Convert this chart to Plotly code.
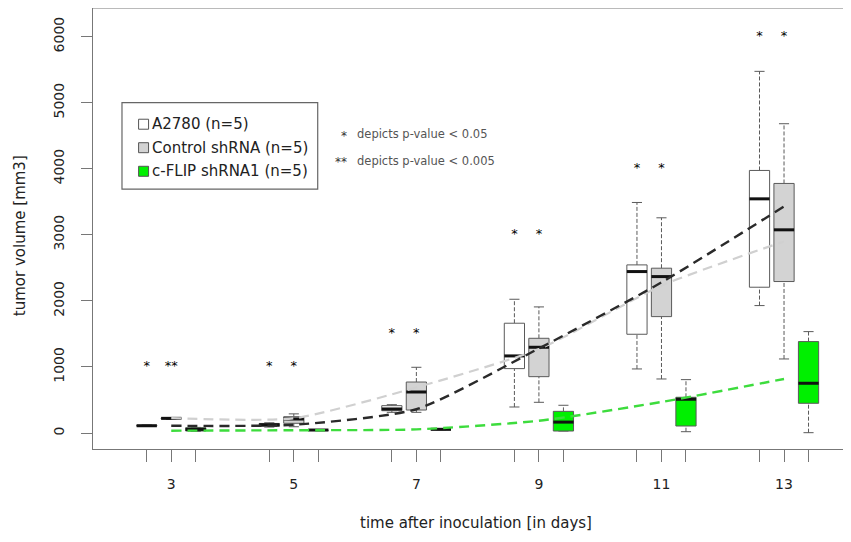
import plotly.graph_objects as go

# ---------------- data ----------------
days = [3, 5, 7, 9, 11, 13]
day_labels = ["3", "5", "7", "9", "11", "13"]

# five-number summaries (lower whisker, Q1, median, Q3, upper whisker) per day
a2780_low = [100, 90, 313, 394, 970, 1929]
a2780_q1 = [105, 100, 338, 975, 1495, 2207]
a2780_med = [110, 125, 364, 1167, 2444, 3545]
a2780_q3 = [118, 145, 414, 1662, 2545, 3975]
a2780_high = [122, 155, 429, 2025, 3490, 5475]

control_low = [205, 95, 313, 465, 818, 1121]
control_q1 = [215, 147, 348, 853, 1762, 2293]
control_med = [222, 212, 621, 1298, 2368, 3076]
control_q3 = [228, 247, 772, 1434, 2495, 3778]
control_high = [235, 290, 995, 1909, 3258, 4682]

flip_low = [25, 38, 48, 30, 20, 5]
flip_q1 = [30, 40, 50, 30, 106, 450]
flip_med = [55, 45, 56, 165, 511, 753]
flip_q3 = [80, 50, 60, 328, 541, 1384]
flip_high = [85, 52, 62, 420, 808, 1535]

# mean trend lines
a2780_trend = [110, 125, 360, 1280, 2280, 3430]
control_trend = [225, 222, 690, 1270, 2230, 2900]
flip_trend = [35, 42, 55, 185, 470, 818]

# significance marks (A2780 position, Control position per day)
sig_a2780 = ["*", "*", "*", "*", "*", "*"]
sig_control = ["**", "*", "*", "*", "*", "*"]
sig_level = [1000, 1000, 1500, 3000, 4000, 6000]

series_names = ["A2780 (n=5)", "Control shRNA (n=5)", "c-FLIP shRNA1 (n=5)"]
series_fill = ["#ffffff", "#d3d3d3", "#00f000"]
offsets = [-0.4, 0.0, 0.4]

# ---------------- styling ----------------
FONT = "DejaVu Sans"
BOX_W = 0.33
CAP = BOX_W / 4
EDGE = "#5a5a5a"

PAGE = 8  # page body margin offset in the screenshot
W, H = 851 - PAGE, 542 - PAGE
L, R, T = 92.7 - PAGE, 0, 0
B = H - (449.3 - PAGE)
PW, PH = W - L - R, H - T - B


def px(xs):
    return (xs - PAGE - L) / PW


def py(ys):
    return (H - B - (ys - PAGE)) / PH


fig = go.Figure()

groups = [
    (a2780_low, a2780_q1, a2780_med, a2780_q3, a2780_high),
    (control_low, control_q1, control_med, control_q3, control_high),
    (flip_low, flip_q1, flip_med, flip_q3, flip_high),
]

for gi, (lo, q1, md, q3, hi) in enumerate(groups):
    for di, d in enumerate(days):
        p = d + offsets[gi]
        fig.add_trace(go.Scatter(
            x=[p, p, None, p, p], y=[q3[di], hi[di], None, lo[di], q1[di]],
            mode="lines", line=dict(color=EDGE, width=1, dash="4px,2px"),
            hoverinfo="skip", showlegend=False))
        fig.add_trace(go.Scatter(
            x=[p - CAP, p + CAP, None, p - CAP, p + CAP],
            y=[hi[di], hi[di], None, lo[di], lo[di]],
            mode="lines", line=dict(color=EDGE, width=1),
            hoverinfo="skip", showlegend=False))
        fig.add_trace(go.Scatter(
            x=[p - BOX_W / 2, p + BOX_W / 2, p + BOX_W / 2, p - BOX_W / 2, p - BOX_W / 2],
            y=[q1[di], q1[di], q3[di], q3[di], q1[di]],
            mode="lines", fill="toself", fillcolor=series_fill[gi],
            line=dict(color=EDGE, width=1), hoverinfo="skip", showlegend=False))
        fig.add_trace(go.Scatter(
            x=[p - BOX_W / 2, p + BOX_W / 2], y=[md[di], md[di]],
            mode="lines", line=dict(color="#111111", width=3),
            hoverinfo="skip", showlegend=False))

for vals, col, wd in [(control_trend, "#d0d0d0", 2.2),
                      (a2780_trend, "#2a2a2a", 2.4),
                      (flip_trend, "#3ddc3d", 2.4)]:
    fig.add_trace(go.Scatter(
        x=days, y=vals, mode="lines",
        line=dict(color=col, width=wd, dash="10px,6px", shape="spline", smoothing=0.6),
        hoverinfo="skip", showlegend=False))

star_x, star_y, star_t = [], [], []
for di, d in enumerate(days):
    star_x += [d + offsets[0], d + offsets[1]]
    star_y += [sig_level[di], sig_level[di]]
    star_t += [sig_a2780[di], sig_control[di]]
fig.add_trace(go.Scatter(
    x=star_x, y=star_y, mode="text", text=star_t, textposition="middle center",
    textfont=dict(family=FONT, size=13, color="#000000"),
    hoverinfo="skip", showlegend=False))

tick_vals, tick_text = [], []
for d, lab in zip(days, day_labels):
    for k, o in enumerate(offsets):
        tick_vals.append(d + o)
        tick_text.append(lab if k == 1 else "")

shapes = [
    dict(type="line", xref="paper", yref="paper", x0=0, x1=1.05, y0=1, y1=1,
         line=dict(color="#777777", width=1.2)),
    dict(type="rect", xref="paper", yref="paper",
         x0=px(121.7), x1=px(317.5), y0=py(102.7), y1=py(189.3),
         line=dict(color="#666666", width=1.2), fillcolor="white"),
]
annotations = []
row_y = [124.3, 147.8, 171.4]
for i, (nm, fc) in enumerate(zip(series_names, series_fill)):
    shapes.append(dict(type="rect", xref="paper", yref="paper",
                       x0=px(138.3), x1=px(148.3), y0=py(row_y[i] + 5), y1=py(row_y[i] - 5),
                       line=dict(color="#555555", width=1), fillcolor=fc))
    annotations.append(dict(text=nm, xref="paper", yref="paper", x=px(150), y=py(row_y[i]),
                            xanchor="left", yanchor="middle", showarrow=False,
                            font=dict(family=FONT, size=15, color="#222222")))

annotations += [
    dict(text="*", xref="paper", yref="paper", x=px(349), y=py(136), xanchor="right",
         yanchor="middle", showarrow=False, font=dict(family=FONT, size=12, color="#333333")),
    dict(text="depicts p-value < 0.05", xref="paper", yref="paper", x=px(355), y=py(134),
         xanchor="left", yanchor="middle", showarrow=False,
         font=dict(family=FONT, size=11.5, color="#555555")),
    dict(text="**", xref="paper", yref="paper", x=px(349), y=py(162), xanchor="right",
         yanchor="middle", showarrow=False, font=dict(family=FONT, size=12, color="#333333")),
    dict(text="depicts p-value < 0.005", xref="paper", yref="paper", x=px(355), y=py(161),
         xanchor="left", yanchor="middle", showarrow=False,
         font=dict(family=FONT, size=11.5, color="#555555")),
    dict(text="time after inoculation [in days]", xref="paper", yref="paper",
         x=px(476), y=py(523), xanchor="center", yanchor="middle", showarrow=False,
         font=dict(family=FONT, size=15, color="#222222")),
    dict(text="tumor volume [mm3]", xref="paper", yref="paper",
         x=px(20), y=py(236), xanchor="center", yanchor="middle", textangle=-90,
         showarrow=False, font=dict(family=FONT, size=15, color="#222222")),
]

fig.update_layout(
    width=W, height=H,
    margin=dict(l=L, r=R, t=T, b=B, pad=0),
    plot_bgcolor="white", paper_bgcolor="white",
    showlegend=False,
    font=dict(family=FONT, color="#222222"),
    shapes=shapes, annotations=annotations,
    xaxis=dict(range=[1.723, 14.093], showgrid=False, zeroline=False, automargin=False,
               showline=True, linecolor="#777777", linewidth=1.2,
               ticks="outside", ticklen=12, tickcolor="#777777", tickwidth=1,
               tickvals=tick_vals, ticktext=tick_text, ticklabelstandoff=10,
               tickfont=dict(family=FONT, size=14, color="#222222")),
    yaxis=dict(range=[-242, 6434], showgrid=False, zeroline=False, automargin=False,
               showline=True, linecolor="#777777", linewidth=1.2,
               ticks="outside", ticklen=11, tickcolor="#777777", tickwidth=1,
               tickvals=[0, 1000, 2000, 3000, 4000, 5000, 6000], tickangle=-90,
               ticklabelstandoff=11,
               tickfont=dict(family=FONT, size=14, color="#222222")),
)

fig.write_html("out.html")
